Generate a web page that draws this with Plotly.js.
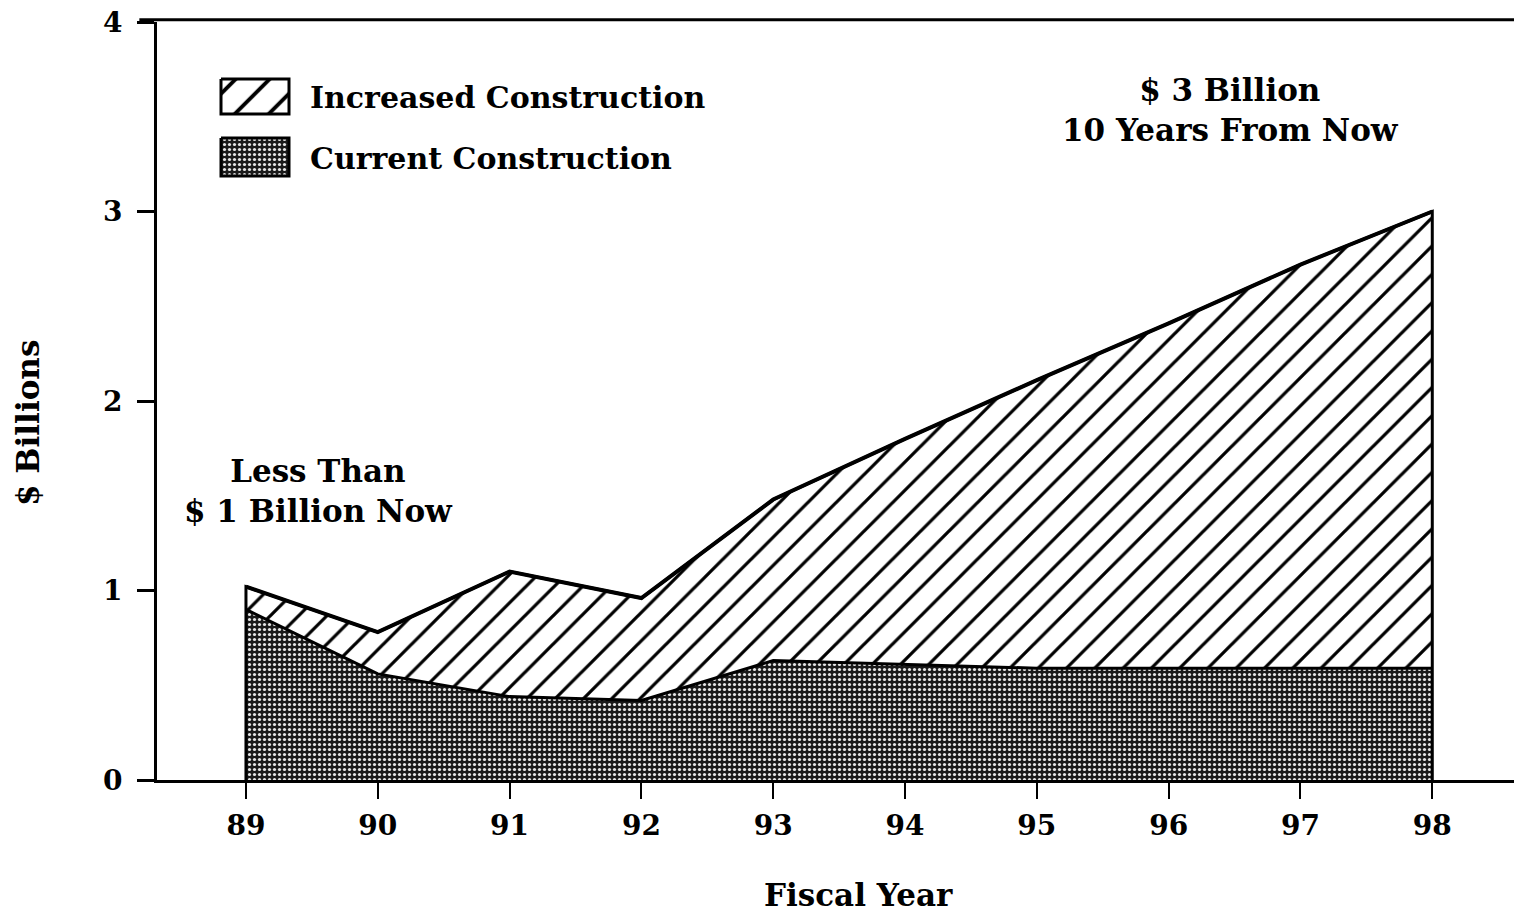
<!DOCTYPE html>
<html>
<head>
<meta charset="utf-8">
<script src="https://cdn.plot.ly/plotly-3.0.1.min.js"></script>
<style>html,body{margin:0;padding:0;background:#fff;}#chart{width:1514px;height:912px;}</style>
</head>
<body>
<div id="chart"></div>
<script>
// Fiscal years
const years = [89, 90, 91, 92, 93, 94, 95, 96, 97, 98];
const yearLabels = ["89", "90", "91", "92", "93", "94", "95", "96", "97", "98"];
// $ billions
const currentConstruction = [0.90, 0.56, 0.44, 0.42, 0.63, 0.61, 0.59, 0.59, 0.59, 0.59];
const increasedConstruction = [0.12, 0.22, 0.66, 0.54, 0.85, 1.19, 1.52, 1.82, 2.13, 2.41];
const yTicks = [0, 1, 2, 3, 4];
const seriesNames = ["Increased Construction", "Current Construction"];

const totals = years.map((_, i) => currentConstruction[i] + increasedConstruction[i]);
const FONT = "DejaVu Serif, Liberation Serif, serif";

const hatch = {shape: "/", bgcolor: "white", fgcolor: "black", size: 20, solidity: 0.16};
const dots = {shape: ".", bgcolor: "#1a1a1a", fgcolor: "#e6e6e6", size: 5, solidity: 0.32};

// pixel frame used only for the hand-drawn legend keys
const L = 157, R = 1514, T = 22, B = 780;
function keyBox(x0, y0, w, h) {
  return {x: [x0, x0 + w, x0 + w, x0, x0], y: [y0, y0, y0 + h, y0 + h, y0]};
}
const key1 = keyBox(221, 79, 68, 35);
const key2 = keyBox(221, 138, 68, 38);

const traces = [
  {
    name: seriesNames[1],
    x: years, y: currentConstruction,
    type: "scatter", mode: "lines", stackgroup: "one",
    line: {color: "black", width: 3},
    fillcolor: "#3a3a3a", fillpattern: dots, showlegend: false
  },
  {
    name: seriesNames[0],
    x: years, y: increasedConstruction,
    type: "scatter", mode: "lines", stackgroup: "one",
    line: {color: "black", width: 4},
    fillcolor: "white", fillpattern: hatch, showlegend: false
  },
  {
    // outline with the vertical edges at both ends
    x: [years[0]].concat(years, [years[years.length - 1]]),
    y: [0].concat(totals, [0]),
    type: "scatter", mode: "lines",
    line: {color: "black", width: 3},
    showlegend: false, hoverinfo: "skip"
  },
  {
    x: key1.x, y: key1.y, xaxis: "x2", yaxis: "y2",
    type: "scatter", mode: "lines", fill: "toself",
    fillcolor: "white", fillpattern: Object.assign({}, hatch, {size: 24}),
    line: {color: "black", width: 3}, showlegend: false, hoverinfo: "skip"
  },
  {
    x: key2.x, y: key2.y, xaxis: "x2", yaxis: "y2",
    type: "scatter", mode: "lines", fill: "toself",
    fillcolor: "#3a3a3a", fillpattern: dots,
    line: {color: "black", width: 3}, showlegend: false, hoverinfo: "skip"
  }
];

const boldFont = (size) => ({family: FONT, size: size, color: "black", weight: 700});

const layout = {
  width: 1514, height: 912,
  margin: {l: L, r: 1514 - R, t: T, b: 912 - B},
  paper_bgcolor: "white", plot_bgcolor: "white",
  showlegend: false,
  xaxis: {
    range: [88.325, 98.62],
    tickmode: "array", tickvals: years, ticktext: yearLabels,
    ticks: "outside", ticklen: 16, tickwidth: 2, tickcolor: "black",
    showline: true, linecolor: "black", linewidth: 3,
    mirror: false, showgrid: false, zeroline: false,
    tickfont: boldFont(28), ticklabelstandoff: 2
  },
  yaxis: {
    range: [0, 4],
    tickmode: "array", tickvals: yTicks,
    ticks: "outside", ticklen: 17, tickwidth: 3, tickcolor: "black",
    showline: true, linecolor: "black", linewidth: 3,
    mirror: false, showgrid: false, zeroline: false,
    tickfont: boldFont(28), ticklabelstandoff: 9
  },
  xaxis2: {overlaying: "x", range: [L, R], visible: false, fixedrange: true},
  yaxis2: {overlaying: "y", range: [B, T], visible: false, fixedrange: true},
  shapes: [
    {type: "line", xref: "paper", yref: "paper", x0: -0.013, x1: 1, y0: 1.003, y1: 1.003,
     line: {color: "black", width: 3}}
  ],
  annotations: [
    {xref: "x2", yref: "y2", x: 308, y: 97, xanchor: "left", yanchor: "middle",
     text: seriesNames[0], showarrow: false, font: boldFont(30)},
    {xref: "x2", yref: "y2", x: 308, y: 158, xanchor: "left", yanchor: "middle",
     text: seriesNames[1], showarrow: false, font: boldFont(30)},
    {xref: "x2", yref: "y2", x: 1230, y: 110, xanchor: "center", yanchor: "middle",
     text: "$ 3 Billion<br>10 Years From Now", showarrow: false,
     font: boldFont(31), align: "center"},
    {xref: "x2", yref: "y2", x: 318, y: 491, xanchor: "center", yanchor: "middle",
     text: "Less Than<br>$ 1 Billion Now", showarrow: false,
     font: boldFont(31), align: "center"},
    {xref: "paper", yref: "paper", x: (858 - L) / (R - L), y: (B - 895) / (B - T),
     xanchor: "center", yanchor: "middle",
     text: "Fiscal Year", showarrow: false, font: boldFont(31)},
    {xref: "paper", yref: "paper", x: (28 - L) / (R - L), y: (B - 423) / (B - T),
     xanchor: "center", yanchor: "middle",
     text: "$ Billions", showarrow: false, textangle: -90, font: boldFont(31)}
  ]
};

Plotly.newPlot("chart", traces, layout, {displayModeBar: false, staticPlot: true});
</script>
</body>
</html>
